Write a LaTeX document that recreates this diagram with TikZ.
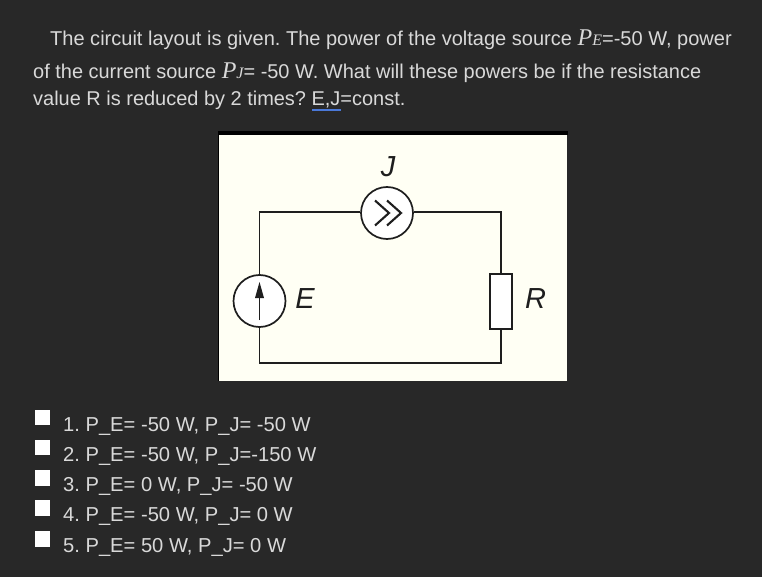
\documentclass[tikz,border=0pt]{standalone}
\usepackage{fontspec}
\setmainfont{Liberation Sans}
\newfontfamily\serifit{Liberation Serif}[ItalicFont=* Italic]
\definecolor{bgdark}{HTML}{282828}
\definecolor{txt}{HTML}{D9D9D9}
\definecolor{panel}{HTML}{FFFFF4}
\definecolor{wire}{HTML}{1E1E1E}
\definecolor{spell}{HTML}{4A78D8}
\frenchspacing
\begin{document}
\begin{tikzpicture}[x=1pt,y=-1pt,
  para/.style={anchor=base west,inner sep=0pt,text=txt,font=\fontsize{19.96}{24}\selectfont},
  paraa/.style={anchor=base west,inner sep=0pt,text=txt,font=\fontsize{20.02}{24}\selectfont},
  opt/.style={anchor=base west,inner sep=0pt,text=txt,font=\fontsize{20.15}{24}\selectfont},
  cbox/.style={draw=none,fill=white,minimum size=15.5pt,inner sep=0pt},
  src/.style={circle,draw=wire,line width=1.7pt,fill=white,minimum size=52pt,inner sep=0pt},
  res/.style={rectangle,draw=wire,line width=1.7pt,fill=white,minimum width=22pt,minimum height=55pt,inner sep=0pt},
  wr/.style={draw=wire,line width=1.6pt},
  lab/.style={inner sep=0pt,text=wire,font=\fontsize{29}{32}\selectfont\itshape}]
\useasboundingbox (0,0) rectangle (762,577);
\fill[bgdark] (0,0) rectangle (762,577);
% question text
\node[paraa] (l1) at (50,45.7) {The circuit layout is given. The power of the voltage source {\serifit\itshape\fontsize{24}{24}\selectfont P\fontsize{16}{16}\selectfont E}=-50 W, power};
\node[para] (l2) at (33,78.7) {of the current source {\serifit\itshape\fontsize{24}{24}\selectfont P\fontsize{16}{16}\selectfont J}= -50 W. What will these powers be if the resistance};
\node[para] (l3) at (33,105.5) {value R is reduced by 2 times? E,J=const.};
\coordinate (ua) at (312,110);
\coordinate (ub) at (341,110);
\draw[color=spell,line width=1.5pt] (ua) -- (ub);
% panel
\fill[panel] (219,135) rectangle (567,381);
\fill[black] (218,131) rectangle (568,135);
\fill[black] (218,135) rectangle (219,381);
% circuit
\coordinate (tl) at (259.5,212);
\coordinate (tr) at (501,212);
\coordinate (bl) at (259.5,363);
\coordinate (br) at (501,363);
\node[src] (J) at (387,213) {};
\node[src] (E) at (259.5,301) {};
\node[res] (R) at (501,301.5) {};
\draw[wr,line join=miter] (E.north) -- (tl) -- (J.west |- tl);
\draw[wr,line join=miter] (J.east |- tr) -- (tr) -- (R.north);
\draw[wr,line join=miter] (E.south) -- (bl) -- (br) -- (R.south);
% J chevrons
\coordinate (c1a) at (375,200.5);
\coordinate (c1b) at (389,213);
\coordinate (c1c) at (375,225.5);
\coordinate (c2a) at (387,200.5);
\coordinate (c2b) at (401,213);
\coordinate (c2c) at (387,225.5);
\draw[wire,line width=2.1pt] (c1a) -- (c1b) -- (c1c);
\draw[wire,line width=2.1pt] (c2a) -- (c2b) -- (c2c);
% E arrow
\coordinate (ea) at (259.5,320);
\coordinate (eb) at (259.5,297);
\coordinate (et) at (259.5,282);
\draw[wire,line width=0.8pt] (ea) -- (eb);
\fill[wire] (et) -- (264,298) -- (255,298) -- cycle;
% labels
\node[lab] (Jl) at (388,167) {J};
\node[lab] (El) at (305,298.5) {E};
\node[lab] (Rl) at (535.5,298.5) {R};
% options
\node[cbox] (c1) at (42.5,417.5) {};
\node[cbox] (c2) at (42.5,447.5) {};
\node[cbox] (c3) at (42.5,478) {};
\node[cbox] (c4) at (42.5,508) {};
\node[cbox] (c5) at (42.5,539) {};
\node[opt] (o1) at (63,431) {1. P\_E= -50 W, P\_J= -50 W};
\node[opt] (o2) at (63,461) {2. P\_E= -50 W, P\_J=-150 W};
\node[opt] (o3) at (63,491) {3. P\_E= 0 W, P\_J= -50 W};
\node[opt] (o4) at (63,521) {4. P\_E= -50 W, P\_J= 0 W};
\node[opt] (o5) at (63,552) {5. P\_E= 50 W, P\_J= 0 W};
\end{tikzpicture}
\end{document}
